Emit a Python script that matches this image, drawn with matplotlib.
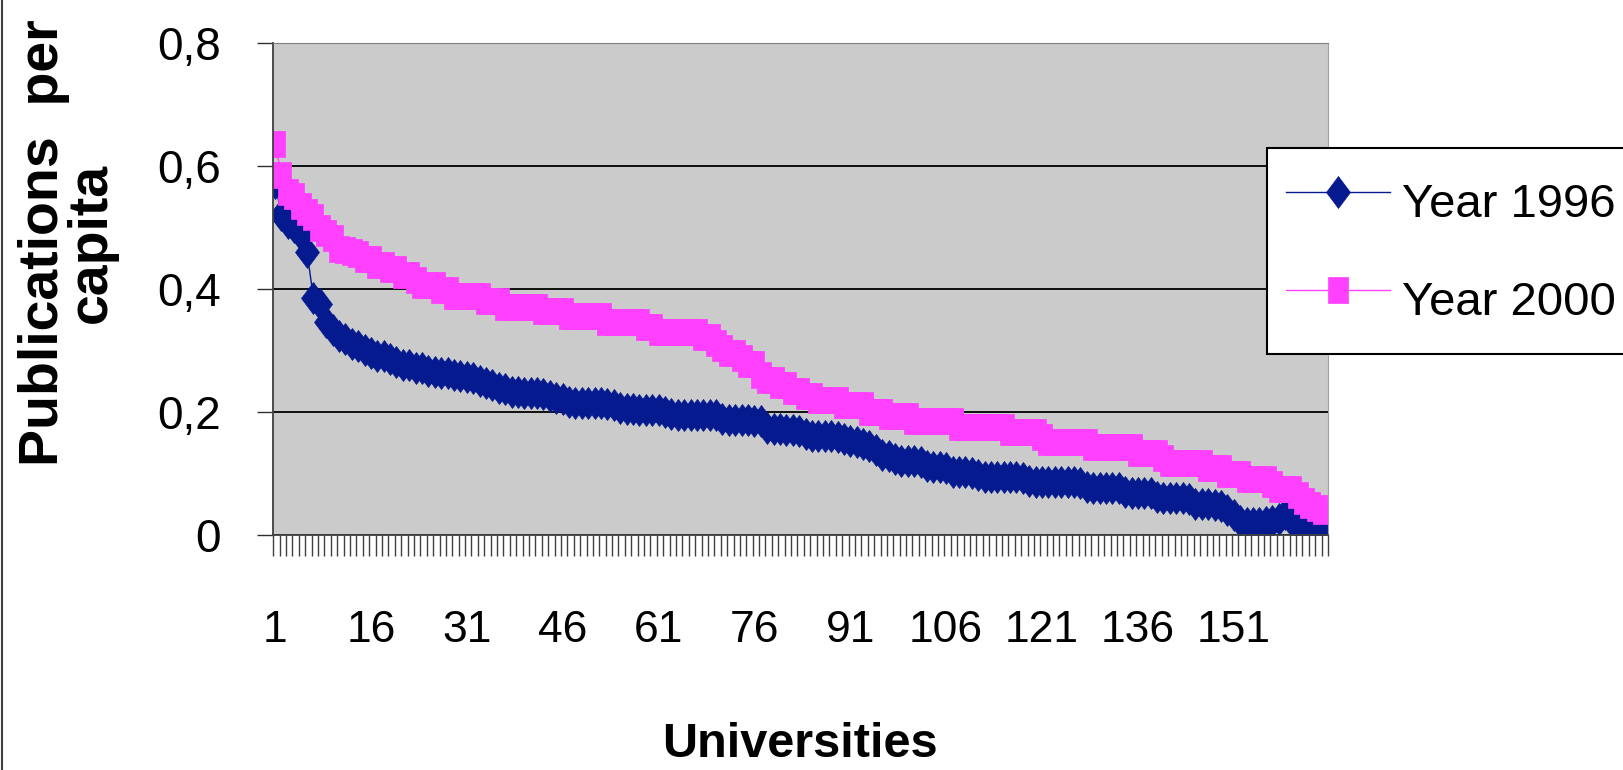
import matplotlib
matplotlib.use("Agg")
import matplotlib.pyplot as plt
from matplotlib.lines import Line2D
from matplotlib.ticker import FixedLocator, FuncFormatter

# publications per capita, universities ranked 1..165
year_1996 = [
    0.571, 0.520, 0.507, 0.500, 0.487, 0.460, 0.385, 0.375, 0.345, 0.333,
    0.323, 0.318, 0.310, 0.307, 0.300, 0.295, 0.290, 0.290, 0.285, 0.280,
    0.275, 0.275, 0.271, 0.270, 0.266, 0.264, 0.263, 0.262, 0.259, 0.258,
    0.256, 0.255, 0.250, 0.247, 0.243, 0.239, 0.236, 0.232, 0.231, 0.230,
    0.230, 0.230, 0.229, 0.225, 0.222, 0.220, 0.216, 0.214, 0.214, 0.214,
    0.214, 0.214, 0.213, 0.210, 0.205, 0.204, 0.204, 0.203, 0.203, 0.203,
    0.203, 0.200, 0.196, 0.195, 0.195, 0.195, 0.195, 0.195, 0.195, 0.194,
    0.188, 0.186, 0.186, 0.186, 0.186, 0.185, 0.184, 0.173, 0.171, 0.171,
    0.170, 0.170, 0.168, 0.163, 0.161, 0.160, 0.160, 0.160, 0.158, 0.155,
    0.152, 0.150, 0.147, 0.144, 0.138, 0.129, 0.127, 0.122, 0.120, 0.119,
    0.119, 0.118, 0.111, 0.110, 0.110, 0.108, 0.102, 0.101, 0.101, 0.100,
    0.097, 0.094, 0.093, 0.093, 0.093, 0.093, 0.093, 0.092, 0.087, 0.086,
    0.085, 0.085, 0.085, 0.085, 0.085, 0.085, 0.084, 0.077, 0.076, 0.076,
    0.076, 0.075, 0.075, 0.069, 0.068, 0.068, 0.067, 0.067, 0.061, 0.060,
    0.060, 0.059, 0.059, 0.058, 0.050, 0.049, 0.049, 0.048, 0.046, 0.040,
    0.032, 0.022, 0.019, 0.018, 0.018, 0.020, 0.022, 0.026, 0.033, 0.024,
    0.016, 0.010, 0.009, 0.006, 0.008,
]

year_2000 = [
    0.635, 0.585, 0.557, 0.550, 0.534, 0.525, 0.516, 0.499, 0.490, 0.482,
    0.465, 0.462, 0.459, 0.456, 0.448, 0.448, 0.439, 0.439, 0.431, 0.431,
    0.422, 0.422, 0.414, 0.405, 0.405, 0.405, 0.398, 0.398, 0.388, 0.388,
    0.388, 0.388, 0.388, 0.379, 0.379, 0.379, 0.370, 0.370, 0.370, 0.370,
    0.370, 0.370, 0.363, 0.363, 0.363, 0.363, 0.355, 0.355, 0.355, 0.355,
    0.355, 0.355, 0.345, 0.345, 0.345, 0.345, 0.345, 0.345, 0.337, 0.337,
    0.329, 0.329, 0.329, 0.329, 0.329, 0.329, 0.329, 0.321, 0.321, 0.311,
    0.303, 0.295, 0.295, 0.287, 0.277, 0.277, 0.260, 0.252, 0.252, 0.243,
    0.243, 0.234, 0.234, 0.226, 0.226, 0.218, 0.218, 0.218, 0.218, 0.210,
    0.210, 0.210, 0.210, 0.200, 0.200, 0.200, 0.192, 0.192, 0.192, 0.192,
    0.184, 0.184, 0.184, 0.184, 0.184, 0.184, 0.184, 0.175, 0.175, 0.175,
    0.175, 0.175, 0.175, 0.175, 0.175, 0.166, 0.166, 0.166, 0.166, 0.166,
    0.158, 0.150, 0.150, 0.150, 0.150, 0.150, 0.150, 0.150, 0.142, 0.142,
    0.142, 0.142, 0.142, 0.142, 0.142, 0.132, 0.132, 0.132, 0.132, 0.124,
    0.116, 0.116, 0.116, 0.116, 0.116, 0.116, 0.108, 0.108, 0.108, 0.098,
    0.098, 0.098, 0.090, 0.090, 0.090, 0.090, 0.082, 0.0735, 0.0735, 0.0735,
    0.064, 0.055, 0.0475, 0.043, 0.0387,
]

universities = list(range(1, len(year_1996) + 1))
label_ticks = list(range(1, 152, 15))
y_ticks = [0, 0.2, 0.4, 0.6, 0.8]

NAVY = "#041A8E"
PINK = "#FF40FF"
sans = ["Liberation Sans", "DejaVu Sans"]

# tall excel-style markers
diamond = [(0, 1), (0.75, 0), (0, -1), (-0.75, 0), (0, 1)]
block = [(-0.74, -1), (0.74, -1), (0.74, 1), (-0.74, 1), (-0.74, -1)]

fig = plt.figure(figsize=(16.24, 7.7), dpi=100)
ax = fig.add_axes([0.1683, 0.3058, 0.6494, 0.639])
ax.set_facecolor("#CBCBCB")

ax.plot(universities, year_1996, color=NAVY, lw=1, marker=diamond,
        ms=23, mfc=NAVY, mec=NAVY, mew=0.5, label="Year 1996")
ax.plot(universities, year_2000, color=PINK, lw=1, marker=block,
        ms=19.4, mfc=PINK, mec=PINK, mew=0.5, label="Year 2000")

ax.set_xlim(0.73, 165.73)
ax.set_ylim(0, 0.8)

ax.set_yticks(y_ticks)
ax.yaxis.set_major_formatter(FuncFormatter(lambda v, p: "0" if v == 0 else f"{v:.1f}".replace(".", ",")))
ax.yaxis.grid(True, color="black", lw=1.3)
ax.tick_params(axis="y", length=11.5, width=1, color="#303030", pad=26)

ax.set_xticks(label_ticks)
ax.xaxis.set_minor_locator(FixedLocator([0.73 + k for k in range(166)]))
ax.tick_params(axis="x", which="major", length=0, pad=54)
ax.tick_params(axis="x", which="minor", length=15, width=1, color="#404040", direction="out")

for lab in ax.get_xticklabels() + ax.get_yticklabels():
    lab.set_fontfamily(sans)
    lab.set_fontsize(32)
for lab in ax.get_yticklabels():
    lab.set_fontsize(33)

ax.spines["left"].set_color("#404040")
ax.spines["bottom"].set_color("#404040")
ax.spines["left"].set_linewidth(1.3)
ax.spines["bottom"].set_linewidth(1.3)
ax.spines["right"].set_color("#A0A0A0")
ax.spines["top"].set_color("#808080")

leg = ax.legend(loc="upper left", bbox_to_anchor=(1267 / 1624, 1 - 148 / 770),
                bbox_transform=fig.transFigure, borderaxespad=0, frameon=True,
                fancybox=False, edgecolor="black", framealpha=1,
                prop={"family": sans, "size": 34}, handlelength=2.2,
                handleheight=1.9, handletextpad=0.25, labelspacing=0.6,
                borderpad=0.4)
leg.get_frame().set_linewidth(1.5)

fig.text(68 / 1624, 1 - 243 / 770, "Publications  per\ncapita", rotation=90,
         ha="center", va="center", multialignment="center", fontsize=40,
         fontweight="bold", family=sans, linespacing=0.88)
fig.text(800 / 1624, 1 - 757 / 770, "Universities", ha="center", va="baseline",
         fontsize=35, fontweight="bold", family=sans)

# chart area edge on the left side
fig.add_artist(Line2D([0.0012, 0.0012], [0, 1], transform=fig.transFigure,
                      color="#404040", lw=1.5))

fig.savefig("out.png", dpi=100)
